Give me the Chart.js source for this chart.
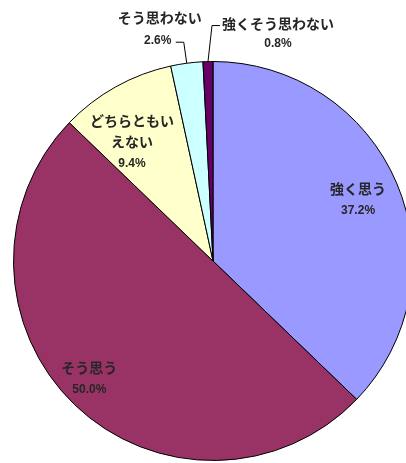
<!DOCTYPE html>
<html>
<head>
<meta charset="utf-8">
<script src="https://cdn.jsdelivr.net/npm/chart.js@4"></script>
<style>
  html, body { margin: 0; padding: 0; background: #fff; overflow: hidden; }
  #wrap { width: 406px; height: 463px; overflow: hidden; }
</style>
</head>
<body>
<div id="wrap"><canvas id="pieChart" width="426" height="463"></canvas></div>
<script>
// answers, clockwise from 12 o'clock
const categories = ['強く思う', 'そう思う', 'どちらともいえない', 'そう思わない', '強くそう思わない'];
const shares = [37.2, 50.0, 9.4, 2.6, 0.8];
const sliceColors = ['#9999ff', '#993366', '#ffffcc', '#ccffff', '#660066'];
// how the category names are broken into lines on the chart
const labelLines = [['強く思う'], ['そう思う'], ['どちらともい', 'えない'], ['そう思わない'], ['強くそう思わない']];

// label placement: inside ones sit along the slice bisector,
// outside ones hang off the rim with an elbow leader line
const labelPlace = [
  { inside: true, f: 0.79, dx: 0, dy: 0 },
  { inside: true, f: 0.85, dx: -6, dy: -5 },
  { inside: true, f: 0.72, dx: -11, dy: 6 },
  { inside: false, name: [-27, -46], pct: [-29, -23], leader: [[-11, -21], [-3, -21], [0, 0]] },
  { inside: false, name: [70, -38], pct: [70, -18], leader: [[12, -36], [4, -36], [0, 0]] }
];

const jpFont = '600 14px "Noto Sans CJK JP", sans-serif';
const numFont = 'bold 12px "Liberation Sans", Arial, sans-serif';

const sliceLabels = {
  id: 'sliceLabels',
  afterDatasetsDraw(chart) {
    let ctx = chart.ctx;
    let arcs = chart.getDatasetMeta(0).data;
    ctx.save();
    ctx.fillStyle = '#262626';
    ctx.textAlign = 'center';
    ctx.textBaseline = 'middle';
    arcs.forEach((arc, i) => {
      let p = arc.getProps(['x', 'y', 'startAngle', 'endAngle', 'outerRadius'], true);
      let mid = (p.startAngle + p.endAngle) / 2;
      let place = labelPlace[i];
      let pct = shares[i].toFixed(1) + '%';
      let lines = labelLines[i];
      if (place.inside) {
        let cx = p.x + Math.cos(mid) * p.outerRadius * place.f + place.dx;
        let cy = p.y + Math.sin(mid) * p.outerRadius * place.f + place.dy;
        let total = lines.length + 1;
        let top = cy - (total - 1) * 21 / 2;
        ctx.font = jpFont;
        lines.forEach((t, k) => ctx.fillText(t, cx, top + k * 21));
        ctx.font = numFont;
        ctx.fillText(pct, cx, top + lines.length * 21 + 1);
      } else {
        let ex = p.x + Math.cos(mid) * p.outerRadius;
        let ey = p.y + Math.sin(mid) * p.outerRadius;
        ctx.font = jpFont;
        ctx.fillText(lines[0], ex + place.name[0], ey + place.name[1]);
        ctx.font = numFont;
        ctx.fillText(pct, ex + place.pct[0], ey + place.pct[1]);
        ctx.beginPath();
        ctx.strokeStyle = '#000';
        ctx.lineWidth = 1;
        place.leader.forEach((pt, k) => {
          if (k === 0) ctx.moveTo(ex + pt[0], ey + pt[1]);
          else ctx.lineTo(ex + pt[0], ey + pt[1]);
        });
        ctx.stroke();
      }
    });
    ctx.restore();
  }
};

new Chart(document.getElementById('pieChart'), {
  type: 'pie',
  data: {
    labels: categories,
    datasets: [{
      data: shares,
      backgroundColor: sliceColors,
      borderColor: '#000',
      borderWidth: 1
    }]
  },
  options: {
    responsive: false,
    animation: false,
    layout: { padding: { top: 61, bottom: 2, left: 13, right: 13 } },
    plugins: {
      legend: { display: false },
      tooltip: { enabled: false }
    }
  },
  plugins: [sliceLabels]
});
</script>
</body>
</html>
